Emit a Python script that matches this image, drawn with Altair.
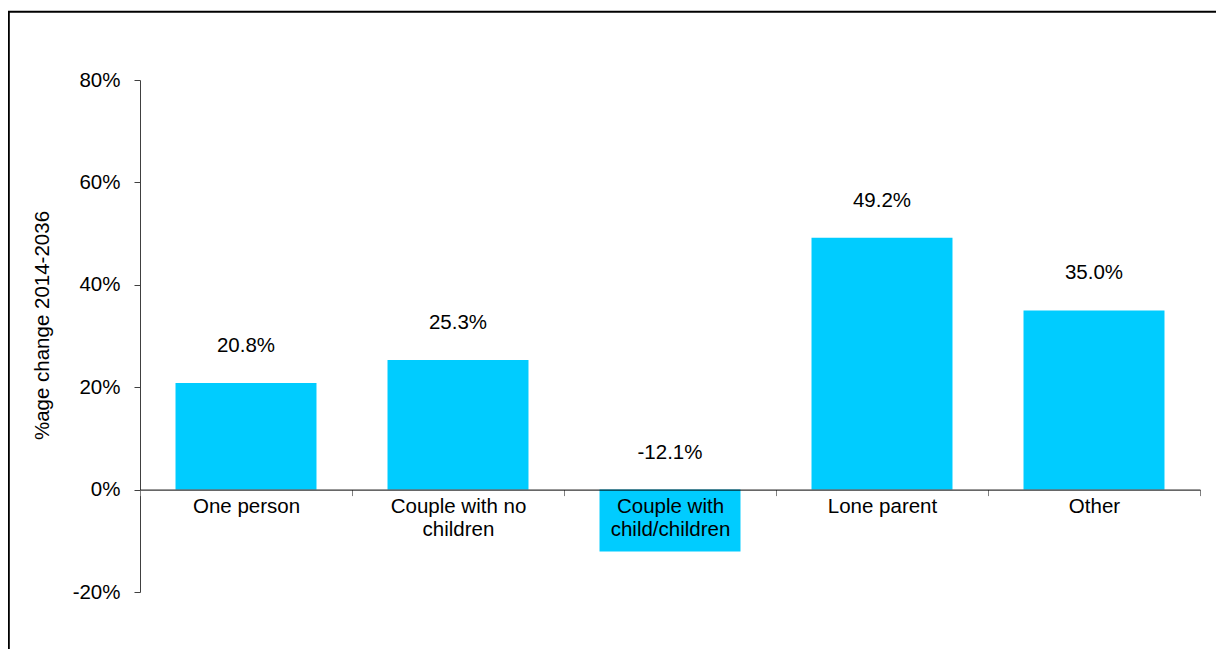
import altair as alt
import pandas as pd

categories = ["One person", "Couple with no\nchildren", "Couple with\nchild/children", "Lone parent", "Other"]
values = [20.8, 25.3, -12.1, 49.2, 35.0]
y_ticks = [-20, 0, 20, 40, 60, 80]
y_title = "%age change 2014-2036"

df = pd.DataFrame({"category": categories, "value": values})
df["label"] = [f"{v:.1f}%" for v in values]

FONT = "Liberation Sans"
FS = 20.5
W, H = 1060, 512

x_enc = alt.X(
    "category:N",
    sort=categories,
    scale=alt.Scale(paddingInner=0, paddingOuter=0),
    axis=alt.Axis(
        title=None, labelAngle=0, labelExpr="split(datum.label, '\\n')",
        labelFontSize=FS, labelFont=FONT, labelColor="black", labelLineHeight=23,
        labelPadding=1, labelBaseline="top", labelLimit=400,
        tickBand="extent", tickSize=6, tickColor="#808080",
        domainColor="black", domainWidth=1, offset=-102.4, zindex=1,
    ),
)

y_axis = alt.Axis(
    values=y_ticks, labelExpr="datum.value + '%'",
    title=y_title, titleFontSize=FS, titleFontWeight="normal", titleFont=FONT,
    titleColor="black", titleAngle=-90, titleX=-88, titleY=245,
    titleAlign="center", titleBaseline="bottom",
    labelFontSize=FS, labelFont=FONT, labelColor="black", labelPadding=14,
    tickSize=6, tickColor="#404040", domainColor="#404040", grid=False,
)
y_scale = alt.Scale(domain=[-20, 80], nice=False, zero=False)

base = alt.Chart(df)

bars = base.mark_bar(color="#00CCFF", width=alt.RelativeBandSize(0.665)).encode(
    x=x_enc,
    y=alt.Y("value:Q", scale=y_scale, axis=y_axis),
)

labels = base.transform_calculate(
    label_y="max(datum.value, 0)"
).mark_text(fontSize=FS, font=FONT, color="black", dy=-37, baseline="middle").encode(
    x=x_enc,
    y=alt.Y("label_y:Q", scale=y_scale, axis=y_axis),
    text="label:N",
)

frame = alt.Chart(alt.Data(values=[{}])).mark_rect(
    fill="transparent", stroke="black", strokeWidth=2
).encode(
    x=alt.value(-131.2), x2=alt.value(1500), y=alt.value(-68.2), y2=alt.value(1000)
)

chart = alt.layer(bars, labels, frame).properties(
    width=W, height=H,
    padding={"left": 132, "top": 72, "right": 16, "bottom": 57},
    autosize=alt.AutoSizeParams(type="none"),
).configure(font=FONT).configure_view(strokeWidth=0, stroke="transparent")

chart.save("out.html", embed_options={"renderer": "svg", "actions": False})
